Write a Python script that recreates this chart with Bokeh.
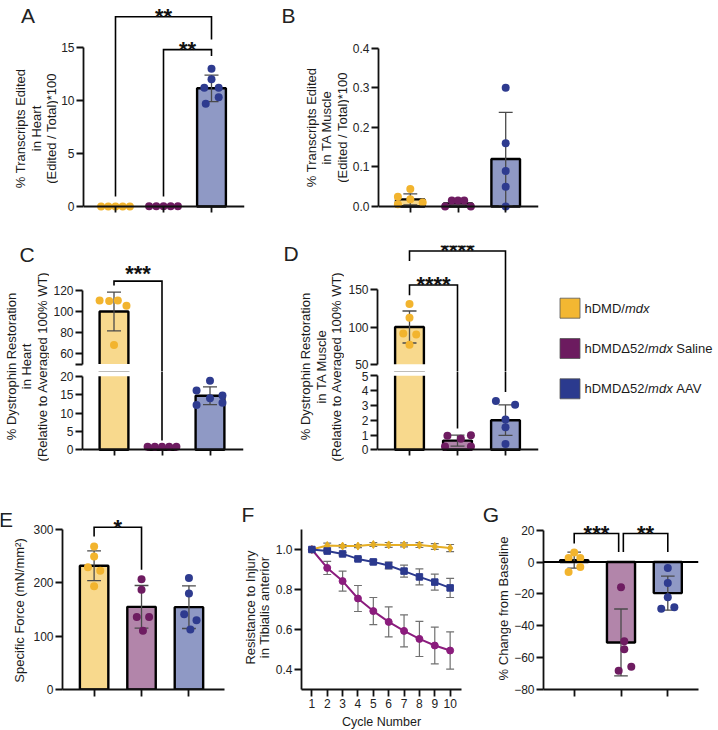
import numpy as np
from bokeh.plotting import figure
from bokeh.layouts import row, column
from bokeh.models import Range1d, FixedTicker, PrintfTickFormatter, Label, Span, Spacer
from bokeh.core.properties import value
from bokeh.embed import file_html
from bokeh.resources import INLINE

# ------------------------------------------------------------------ data
categories = [1, 2, 3]

# A: edited transcripts in heart (%)
heart_edit_mean = [0.0, 0.03, 11.15]
heart_edit_sd = [0.0, 0.0, 1.25]
heart_edit_pts = [
    [0.0, 0.0, 0.0, 0.0, 0.0],
    [0.03, 0.03, 0.03, 0.03, 0.03],
    [13.0, 12.0, 11.2, 11.2, 10.3, 9.7],
]

# B: edited transcripts in TA muscle (%)
ta_edit_mean = [0.018, 0.008, 0.12]
ta_edit_sd = [0.014, 0.007, 0.118]
ta_edit_pts = [
    [0.044, 0.0245, 0.0185, 0.006, 0.010],
    [0.015, 0.015, 0.015, 0.0, 0.0],
    [0.30, 0.16, 0.09, 0.05, 0.0],
]

# C: dystrophin restoration in heart (% of WT)
heart_dys_mean = [100.0, 0.7, 14.7]
heart_dys_sd = [18.5, 0.15, 2.4]
heart_dys_pts = [
    [110.5, 110.0, 110.5, 105.5, 68.0],
    [0.8, 0.8, 0.8, 0.8, 0.8],
    [18.75, 16.1, 14.75, 14.0, 12.2, 12.8],
]

# D: dystrophin restoration in TA muscle (% of WT)
ta_dys_mean = [100.0, 0.62, 2.0]
ta_dys_sd = [21.5, 0.37, 1.03]
ta_dys_pts = [
    [130.9, 112.6, 91.1, 89.8, 76.3],
    [0.22, 0.95, 0.74, 0.99, 0.22],
    [3.3, 3.05, 2.05, 1.53, 0.4],
]

# E: specific force (mN/mm2)
force_mean = [232.0, 155.0, 154.4]
force_sd = [28.0, 40.0, 40.0]
force_pts = [
    [268.0, 249.6, 229.0, 222.8, 193.4],
    [206.6, 187.0, 136.0, 136.0, 110.0],
    [209.0, 179.8, 141.0, 129.8, 112.4],
]

# F: resistance to injury over eccentric cycles
cycles = [1, 2, 3, 4, 5, 6, 7, 8, 9, 10]
resist_wt = [1.0, 1.02, 1.017, 1.017, 1.025, 1.023, 1.023, 1.022, 1.015, 1.007]
resist_wt_err = [0.0, 0.012, 0.008, 0.008, 0.01, 0.012, 0.01, 0.012, 0.014, 0.018]
resist_saline = [1.0, 0.908, 0.842, 0.755, 0.692, 0.638, 0.593, 0.553, 0.52, 0.495]
resist_saline_err = [0.0, 0.033, 0.05, 0.065, 0.068, 0.075, 0.08, 0.088, 0.092, 0.093]
resist_aav = [1.0, 0.992, 0.978, 0.953, 0.938, 0.92, 0.892, 0.863, 0.837, 0.808]
resist_aav_err = [0.0, 0.006, 0.006, 0.008, 0.01, 0.017, 0.03, 0.04, 0.04, 0.048]

# G: % change from baseline
change_mean = [1.2, -50.5, -19.5]
change_sd = [5.0, 21.0, 10.7]
change_pts = [
    [5.9, 2.5, 2.5, -3.2, -6.3],
    [-15.8, -49.8, -54.7, -68.3, -65.8],
    [-3.8, -13.2, -22.1, -29.4, -28.4],
]

legend_pieces = [
    [("hDMD/", "normal"), ("mdx", "italic")],
    [("hDMD\u039452/", "normal"), ("mdx", "italic"), (" Saline", "normal")],
    [("hDMD\u039452/", "normal"), ("mdx", "italic"), (" AAV", "normal")],
]

# ------------------------------------------------------------------ style
SANS = "Liberation Sans"
AXIS = "#111111"
INK = "#1b1b1b"
ERR = "#4a4a4a"
POINT = ["#F2B42E", "#6E1C61", "#2E3B8F"]
FILL = ["#F8D98D", "#B285AA", "#8F99C5"]
LINE_F = ["#E5AE25", "#8B1C7D", "#2B398E"]
SWATCH = ["#F3B732", "#6C1B5F", "#2B3A8E"]

# horizontal spread of the dots inside each bar
JITTER = {
    "A": [[-0.3, -0.15, 0, 0.15, 0.3], [-0.3, -0.15, 0, 0.15, 0.3], [0, 0, -0.15, 0.15, 0.15, -0.12]],
    "B": [[0, -0.26, 0, -0.26, 0.26], [-0.13, 0, 0.13, -0.27, 0.27], [0, 0, 0, 0, 0]],
    "C": [[-0.3, -0.1, 0.08, 0.26, 0], [-0.3, -0.15, 0, 0.15, 0.3], [0, -0.28, 0.26, 0, -0.28, 0.26]],
    "D": [[0, 0, -0.13, 0.14, 0], [-0.26, -0.21, 0.07, 0.28, 0.28], [-0.2, 0.2, 0, 0, 0]],
    "E": [[0, 0, -0.13, 0.13, 0], [0, 0, -0.1, 0.16, 0.03], [0, 0, -0.1, 0.16, 0.03]],
    "G": [[0, -0.12, 0.13, 0.13, -0.12], [0, 0.07, 0.07, -0.05, 0.22], [0, 0, 0, -0.14, 0.14]],
}
CAP = 7 / 48.0
BAR_W = 0.6

# advance widths (em) of the sans face, used to lay out text runs side by side
GLYPH_W = {' ': 0.278, '/': 0.278, '\u0394': 0.668, 'A': 0.667, 'D': 0.722, 'M': 0.833,
           'S': 0.667, 'V': 0.667, 'a': 0.556, 'd': 0.556, 'e': 0.556, 'h': 0.556,
           'i': 0.222, 'l': 0.222, 'm': 0.833, 'n': 0.556, 'x': 0.5}


def text_width(s, size):
    return sum(GLYPH_W.get(c, 0.556) for c in s) * size


def calib(va, pa, vb, pb):
    k = (vb - va) / (pb - pa)
    return lambda px: va + (px - pa) * k


class Pane:
    """A figure whose plotting frame sits at a fixed place on the page."""

    def __init__(self, fx, fy, w, h, frame=None, cx=None, cy=None, xaxis=False, yaxis=False):
        if frame is None:
            frame = (fx, fy, fx + w, fy + h)
        l, t, r, b = frame
        self.cx = cx or calib(0, fx, w, fx + w)
        self.cy = cy or calib(0, fy + h, h, fy)
        self.p = figure(
            width=w, height=h,
            x_range=Range1d(self.cx(l), self.cx(r)),
            y_range=Range1d(self.cy(b), self.cy(t)),
            min_border_left=l - fx, min_border_right=fx + w - r,
            min_border_top=t - fy, min_border_bottom=fy + h - b,
            x_axis_location="below" if xaxis else None,
            y_axis_location="left" if yaxis else None,
            output_backend="svg", toolbar_location=None,
        )
        # keep each frame exactly where its borders put it, not lined up with neighbours
        self.p.frame_align = False
        self.p.outline_line_color = None
        self.p.xgrid.grid_line_color = None
        self.p.ygrid.grid_line_color = None
        self.p.background_fill_color = "white"
        self.p.border_fill_color = "white"


def style_axis(ax, ticks, bounds=None, labels=True, fmt=None, blank=None):
    ax.ticker = FixedTicker(ticks=ticks, minor_ticks=[])
    ax.axis_line_color = AXIS
    ax.axis_line_width = 1.8
    ax.major_tick_line_color = AXIS
    ax.major_tick_line_width = 1.8
    ax.major_tick_in = 0
    ax.major_tick_out = 7
    ax.minor_tick_in = 0
    ax.minor_tick_out = 0
    ax.major_label_text_font = SANS
    ax.major_label_text_font_size = "12px"
    ax.major_label_text_color = "#222222"
    ax.major_label_standoff = 2
    if bounds is not None:
        ax.bounds = bounds
    if fmt:
        ax.formatter = PrintfTickFormatter(format=fmt)
    if blank:
        ax.major_label_overrides = {t: "" for t in blank}
    if not labels:
        ax.major_label_text_font_size = "0px"
        ax.major_label_text_color = None
        ax.major_label_standoff = 0


def put_text(pane, px, py, text, size=13, angle=0.0, align="center", baseline="middle",
             style="normal", color=INK):
    pane.p.text(x=[pane.cx(px)], y=[pane.cy(py)], text=[text], angle=angle,
                text_align=align, text_baseline=baseline, text_font=value(SANS),
                text_font_size=value(f"{size}px"), text_font_style=style,
                text_color=color)


def panel_letter(pane, px, py, letter):
    put_text(pane, px, py, letter, size=21, color="#222222")


def y_title(pane, xs, yc, lines, size=13):
    for x, ln in zip(xs, lines):
        put_text(pane, x, yc, ln, size=size, angle=np.pi / 2)


def error_bars(p, xs, ys, errs, half, color=ERR, width=1.3):
    keep = [(x, y, e) for x, y, e in zip(xs, ys, errs) if e > 0]
    ex = [k[0] for k in keep]
    lo = [k[1] - k[2] for k in keep]
    hi = [k[1] + k[2] for k in keep]
    p.segment(ex, lo, ex, hi, line_color=color, line_width=width)
    left = [x - half for x in ex]
    right = [x + half for x in ex]
    p.segment(left, hi, right, hi, line_color=color, line_width=width)
    p.segment(left, lo, right, lo, line_color=color, line_width=width)


def bars(p, means):
    p.vbar(x=categories, top=means, bottom=0, width=BAR_W, fill_color=FILL,
           line_color="black", line_width=2.4)


def dots(p, pts, jit):
    for i, (vals, offs) in enumerate(zip(pts, jit)):
        p.scatter([categories[i] + o for o in offs], vals, size=8,
                  fill_color=POINT[i], line_color=None)


def stars(pane, x1, x2, y, text, gap=0):
    pane.p.add_layout(Label(
        x=(x1 + x2) / 2, y=y, y_offset=gap, text=text, text_align="center",
        text_baseline="alphabetic", text_font=SANS, text_font_size="22px",
        text_font_style="bold", text_color="#111111"))


def bracket(pane, x1, x2, y, end1, end2, text, gap=0):
    pane.p.line([x1, x1, x2, x2], [end1, y, y, end2], line_color="black",
                line_width=1.6, line_join="miter")
    stars(pane, x1, x2, y, text, gap)


def broken_bracket(top, bot, x1, x2, y, end1, end2, text, gap=0):
    # ends are (segment, value); legs reaching the lower segment cross the break
    below = top.p.y_range.start - 50
    above = bot.p.y_range.end + 50
    e1 = end1[1] if end1[0] == "t" else below
    e2 = end2[1] if end2[0] == "t" else below
    top.p.line([x1, x1, x2, x2], [e1, y, y, e2], line_color="black",
               line_width=1.6, line_join="miter")
    for x, e in ((x1, end1), (x2, end2)):
        if e[0] == "b":
            bot.p.line([x, x], [above, e[1]], line_color="black", line_width=1.6)
    stars(top, x1, x2, y, text, gap)


def bar_xaxis(pane, at_zero=True):
    ax = pane.p.xaxis[0]
    style_axis(ax, categories, labels=False)
    if at_zero:
        ax.fixed_location = 0


def broken_panel(top, bot, means, sds, pts, jit, top_floor, bot_ceiling):
    # white bands hide everything between the two axis segments
    for pane in (top, bot):
        bars(pane.p, means)
    top.p.quad(left=top.p.x_range.start, right=top.p.x_range.end,
               bottom=top.p.y_range.start - 10, top=top_floor,
               fill_color="white", line_color=None)
    bot.p.quad(left=bot.p.x_range.start, right=bot.p.x_range.end,
               bottom=bot_ceiling, top=bot.p.y_range.end + 10,
               fill_color="white", line_color=None)
    for pane in (top, bot):
        error_bars(pane.p, categories, means, sds, CAP)
        dots(pane.p, pts, jit)


# ------------------------------------------------------------------ A
Alab = Pane(0, 0, 58, 232)
A = Pane(58, 0, 192, 232, frame=(83, 0, 244, 212),
         cx=calib(1, 115, 3, 211), cy=calib(0, 206, 15, 47), xaxis=True, yaxis=True)
bars(A.p, heart_edit_mean)
error_bars(A.p, categories, heart_edit_mean, heart_edit_sd, CAP)
dots(A.p, heart_edit_pts, JITTER["A"])
style_axis(A.p.yaxis[0], [0, 5, 10, 15], bounds=(0, 15))
bar_xaxis(A)
bracket(A, 1, 3, 17.9, 0.94, 15.75, "**")
bracket(A, 2, 3, 14.8, 0.94, 14.2, "**")
panel_letter(Alab, 27.5, 14.5, "A")
y_title(Alab, [20, 35.5, 51], 128, ["% Transcripts Edited", "in Heart", "(Edited / Total)*100"])

# ------------------------------------------------------------------ B
Blab = Pane(250, 0, 99, 232)
B = Pane(349, 0, 196, 232, frame=(377, 0, 538, 212),
         cx=calib(1, 409, 3, 505), cy=calib(0, 206, 0.4, 47.7), xaxis=True, yaxis=True)
bars(B.p, ta_edit_mean)
error_bars(B.p, categories, ta_edit_mean, ta_edit_sd, CAP)
dots(B.p, ta_edit_pts, JITTER["B"])
style_axis(B.p.yaxis[0], [0, 0.1, 0.2, 0.3, 0.4], bounds=(0, 0.4), fmt="%.1f")
bar_xaxis(B)
panel_letter(Blab, 288, 14.5, "B")
y_title(Blab, [310.5, 326, 341.5], 127, ["% Transcripts Edited", "in TA Muscle", "(Edited / Total)*100"])

# ------------------------------------------------------------------ C (broken axis)
Clab = Pane(0, 232, 49, 243)
Ct = Pane(49, 232, 201, 139, frame=(82, 252, 243, 371),
          cx=calib(1, 113.5, 3, 209.5), cy=calib(60, 353, 120, 290), yaxis=True)
Cb = Pane(49, 371, 201, 104, frame=(82, 371, 243, 455),
          cx=calib(1, 113.5, 3, 209.5), cy=calib(0, 449.3, 20, 375.7), xaxis=True, yaxis=True)
broken_panel(Ct, Cb, heart_dys_mean, heart_dys_sd, heart_dys_pts, JITTER["C"], 50, 20)
style_axis(Ct.p.yaxis[0], [50, 60, 80, 100, 120], bounds=(50, 120), blank=[50])
style_axis(Cb.p.yaxis[0], [0, 5, 10, 15, 20], bounds=(0, 20))
bar_xaxis(Cb)
broken_bracket(Ct, Cb, 1, 2, 128.9, ("t", 124.8), ("b", 2.5), "***", gap=8)
panel_letter(Clab, 26.5, 254, "C")
y_title(Clab, [10.5, 26, 41.5], 366,
        ["% Dystrophin Restoration", "in Heart", "(Relative to Averaged 100% WT)"])

# ------------------------------------------------------------------ D (broken axis)
Dlab = Pane(250, 232, 94, 243)
Dt = Pane(344, 232, 201, 139, frame=(377, 245, 538, 371),
          cx=calib(1, 409, 3, 505), cy=calib(50, 363.7, 150, 289.3), yaxis=True)
Db = Pane(344, 371, 201, 104, frame=(377, 371, 538, 455),
          cx=calib(1, 409, 3, 505), cy=calib(0, 449.3, 5, 375.3), xaxis=True, yaxis=True)
broken_panel(Dt, Db, ta_dys_mean, ta_dys_sd, ta_dys_pts, JITTER["D"], 50, 5)
style_axis(Dt.p.yaxis[0], [50, 100, 150], bounds=(50, 150))
style_axis(Db.p.yaxis[0], [0, 1, 2, 3, 4, 5], bounds=(0, 5))
bar_xaxis(Db)
broken_bracket(Dt, Db, 1, 3, 202.2, ("t", 188.7), ("b", 3.9), "****")
broken_bracket(Dt, Db, 1, 2, 156.5, ("t", 142.6), ("b", 1.44), "****")
panel_letter(Dlab, 290.5, 252.5, "D")
y_title(Dlab, [305, 320.5, 336], 366,
        ["% Dystrophin Restoration", "in TA Muscle", "(Relative to Averaged 100% WT)"])

# ------------------------------------------------------------------ legend
Leg = Pane(545, 232, 173, 243)
sw_y = [Leg.cy(307.7 + 40.3 * i) for i in range(3)]
Leg.p.rect(x=[Leg.cx(569.5)] * 3, y=sw_y, width=20, height=20,
           fill_color=SWATCH, line_color="#555555", line_width=0.8)
LEG_SIZE = 13
for i, pieces in enumerate(legend_pieces):
    x = 584.0
    for txt, style in pieces:
        body = txt.lstrip(" ")
        x += text_width(txt[:len(txt) - len(body)], LEG_SIZE)
        put_text(Leg, x, 307.7 + 40.3 * i, body, size=LEG_SIZE, align="left", style=style)
        x += text_width(body, LEG_SIZE)

# ------------------------------------------------------------------ E
Elab = Pane(0, 475, 30, 255)
E = Pane(30, 475, 210, 255, frame=(60, 505, 224, 689),
         cx=calib(1, 92, 3, 188), cy=calib(0, 689, 300, 529), xaxis=True, yaxis=True)
bars(E.p, force_mean)
error_bars(E.p, categories, force_mean, force_sd, CAP)
dots(E.p, force_pts, JITTER["E"])
style_axis(E.p.yaxis[0], [0, 100, 200, 300], bounds=(0, 300))
bar_xaxis(E, at_zero=False)
bracket(E, 1, 2, 304.3, 286.9, 224.4, "*")
panel_letter(Elab, 5.5, 519, "E")
y_title(Elab, [19], 610, ["Specific Force (mN/mm\u00b2)"])

# ------------------------------------------------------------------ F
Flab = Pane(240, 475, 32, 255)
F = Pane(272, 475, 208, 238, frame=(299, 529, 461, 689),
         cx=calib(1, 309.5, 10, 449.5), cy=calib(0.4, 669, 1.0, 549), xaxis=True, yaxis=True)
Fcyc = Pane(272, 713, 208, 17)
series = [
    (resist_wt, resist_wt_err, "diamond", 8),
    (resist_saline, resist_saline_err, "circle", 7),
    (resist_aav, resist_aav_err, "square", 6.5),
]
for vals, errs, _, _ in series:
    error_bars(F.p, cycles, vals, errs, 4 / 15.556, color="#707070", width=1.2)
for i, (vals, errs, marker, size) in enumerate(series):
    F.p.line(cycles, vals, line_color=LINE_F[i], line_width=2)
    F.p.scatter(cycles, vals, marker=marker, size=size, fill_color=LINE_F[i], line_color=LINE_F[i])
style_axis(F.p.yaxis[0], [0.4, 0.6, 0.8, 1.0], fmt="%.1f")
style_axis(F.p.xaxis[0], cycles)
panel_letter(Flab, 247.5, 514, "F")
y_title(Flab, [250, 264], 607, ["Resistance to Injury", "in Tibialis anterior"])
put_text(Fcyc, 381, 721, "Cycle Number", size=12.5)

# ------------------------------------------------------------------ G
Glab = Pane(480, 475, 31, 255)
G = Pane(511, 475, 207, 255, frame=(539, 505, 698, 689),
         cx=calib(1, 570.5, 3, 666.5), cy=calib(0, 561.5, -80, 689), xaxis=True, yaxis=True)
bars(G.p, change_mean)
error_bars(G.p, categories, change_mean, change_sd, CAP)
dots(G.p, change_pts, JITTER["G"])
G.p.add_layout(Span(location=0, dimension="width", line_color="black", line_width=1.8))
style_axis(G.p.yaxis[0], [-80, -60, -40, -20, 0, 20], bounds=(-80, 20))
bar_xaxis(G, at_zero=False)
bracket(G, 1, 1.95, 17.9, 11.6, 6.3, "***")
bracket(G, 2.05, 3, 17.9, 6.3, 6.3, "**")
panel_letter(Glab, 490.5, 513.5, "G")
y_title(Glab, [503], 608, ["% Change from Baseline"])

# ------------------------------------------------------------------ page
page = column(
    row(Alab.p, A.p, Blab.p, B.p, Spacer(width=173, height=232)),
    row(Clab.p, column(Ct.p, Cb.p), Dlab.p, column(Dt.p, Db.p), Leg.p),
    row(Elab.p, E.p, Flab.p, column(F.p, Fcyc.p), Glab.p, G.p),
)

open("out.html", "w").write(file_html(page, INLINE))
